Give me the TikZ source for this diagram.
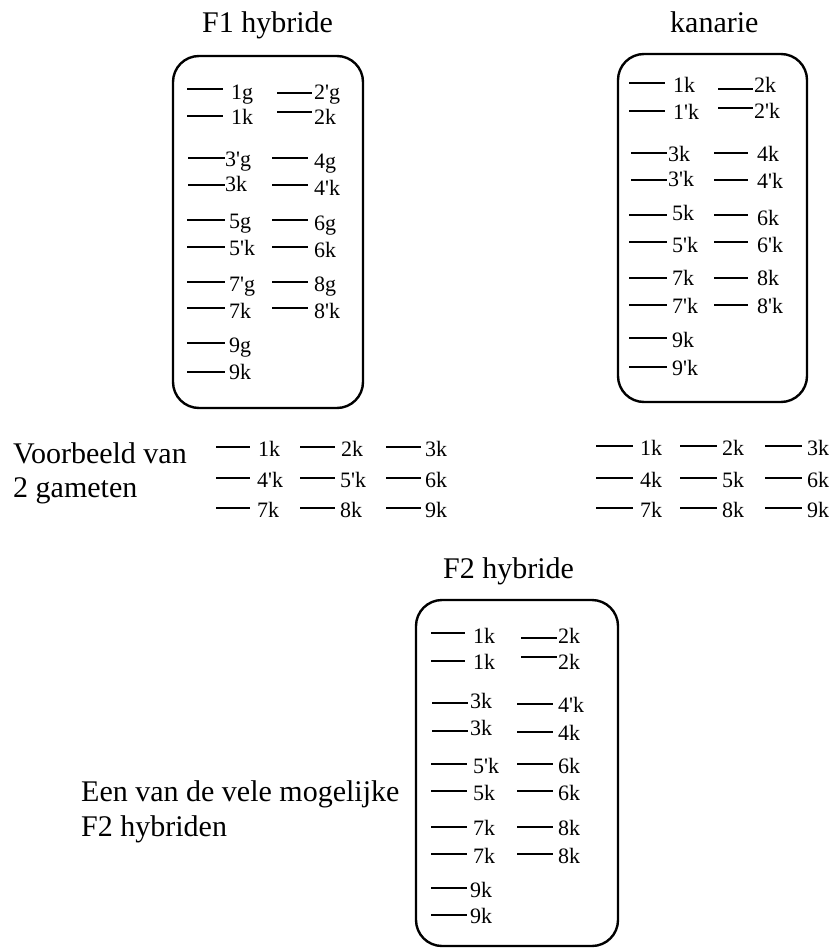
\documentclass[tikz,border=0pt]{standalone}
\usepackage{fontspec}
\setmainfont{Liberation Serif}
\newcommand{\q}{\textquotesingle}
\newcommand{\gn}[7]{%
  \coordinate (#1a) at (#2,#4);
  \coordinate (#1b) at (#3,#4);
  \node[lab] (#1) at (#5,#6) {#7};
  \draw[gline] (#1a) -- (#1b);}
\tikzset{
  lab/.style={anchor=base west,inner sep=0pt,font=\fontsize{22}{24}\selectfont},
  captxt/.style={anchor=base west,inner sep=0pt,font=\fontsize{30}{34}\selectfont},
  gline/.style={line width=2.2pt},
  chrom/.style={line width=2.4pt,rounded corners=26pt},
}
\begin{document}
\begin{tikzpicture}[x=1pt,y=-1pt]
\useasboundingbox (0,0) rectangle (832,952);
% captions
\node[captxt] (tF1) at (202,33) {F1 hybride};
\node[captxt] (tKan) at (670,33) {kanarie};
\node[captxt] (tF2) at (443,578) {F2 hybride};
\node[captxt] (tVb1) at (13,463) {Voorbeeld van};
\node[captxt] (tVb2) at (13,497) {2 gameten};
\node[captxt] (tEen1) at (81,801) {Een van de vele mogelijke};
\node[captxt] (tEen2) at (81,836) {F2 hybriden};
% boxes
\draw[chrom] (173,56) rectangle (363,408);
\draw[chrom] (618,54) rectangle (807,402);
\draw[chrom] (416,600) rectangle (618,946);
% F1 hybride
\gn{fa1}{187}{223}{89}{231}{100}{1g}
\gn{fa2}{187}{223}{116}{231}{125}{1k}
\gn{fa3}{188}{225}{158}{225}{167}{3\q g}
\gn{fa4}{188}{225}{185}{225}{192}{3k}
\gn{fa5}{187}{225}{220}{229}{228}{5g}
\gn{fa6}{187}{225}{247}{229}{255}{5\q k}
\gn{fa7}{187}{225}{282}{229}{291}{7\q g}
\gn{fa8}{187}{225}{308}{229}{318}{7k}
\gn{fa9}{187}{225}{343}{229}{352}{9g}
\gn{fa10}{187}{225}{372}{229}{379}{9k}
\gn{fb1}{277}{312}{93}{314}{100}{2\q g}
\gn{fb2}{277}{312}{112}{314}{125}{2k}
\gn{fb3}{272}{308}{158}{314}{169}{4g}
\gn{fb4}{272}{308}{185}{314}{195}{4\q k}
\gn{fb5}{272}{308}{220}{314}{230}{6g}
\gn{fb6}{272}{308}{247}{314}{257}{6k}
\gn{fb7}{272}{308}{282}{314}{291}{8g}
\gn{fb8}{272}{308}{308}{314}{318}{8\q k}
% kanarie
\gn{ka1}{629}{665}{83}{673}{93}{1k}
\gn{ka2}{629}{665}{111}{673}{120}{1\q k}
\gn{ka3}{631}{667}{153}{668}{162}{3k}
\gn{ka4}{631}{667}{180}{668}{186}{3\q k}
\gn{ka5}{629}{667}{215}{672}{220}{5k}
\gn{ka6}{629}{667}{242}{672}{252}{5\q k}
\gn{ka7}{629}{667}{278}{672}{285}{7k}
\gn{ka8}{629}{667}{305}{672}{313}{7\q k}
\gn{ka9}{629}{667}{338}{672}{347}{9k}
\gn{ka10}{629}{667}{367}{672}{375}{9\q k}
\gn{kb1}{718}{753}{89}{754}{93}{2k}
\gn{kb2}{718}{753}{108}{754}{119}{2\q k}
\gn{kb3}{714}{748}{153}{757}{162}{4k}
\gn{kb4}{714}{748}{180}{757}{189}{4\q k}
\gn{kb5}{714}{748}{215}{757}{225}{6k}
\gn{kb6}{714}{748}{242}{757}{252}{6\q k}
\gn{kb7}{714}{748}{278}{757}{285}{8k}
\gn{kb8}{714}{748}{305}{757}{313}{8\q k}
% gametes left
\gn{gl1}{216}{250}{447}{258}{456}{1k}
\gn{gl2}{300}{335}{447}{341}{456}{2k}
\gn{gl3}{386}{421}{447}{425}{456}{3k}
\gn{gl4}{216}{250}{478}{257}{487}{4\q k}
\gn{gl5}{300}{335}{478}{340}{487}{5\q k}
\gn{gl6}{386}{421}{478}{425}{487}{6k}
\gn{gl7}{216}{250}{508}{257}{517}{7k}
\gn{gl8}{300}{335}{508}{340}{517}{8k}
\gn{gl9}{386}{421}{508}{425}{517}{9k}
% gametes right
\gn{gr1}{596}{633}{446}{640}{455}{1k}
\gn{gr2}{680}{717}{446}{722}{455}{2k}
\gn{gr3}{765}{802}{446}{807}{455}{3k}
\gn{gr4}{596}{633}{478}{640}{487}{4k}
\gn{gr5}{680}{717}{478}{722}{487}{5k}
\gn{gr6}{765}{802}{478}{807}{487}{6k}
\gn{gr7}{596}{633}{508}{640}{517}{7k}
\gn{gr8}{680}{717}{508}{722}{517}{8k}
\gn{gr9}{765}{802}{508}{807}{517}{9k}
% F2 hybride
\gn{ha1}{431}{465}{633}{473}{643}{1k}
\gn{ha2}{431}{465}{661}{473}{669}{1k}
\gn{ha3}{432}{468}{703}{470}{708}{3k}
\gn{ha4}{432}{468}{731}{470}{735}{3k}
\gn{ha5}{431}{467}{764}{473}{773}{5\q k}
\gn{ha6}{431}{467}{791}{473}{800}{5k}
\gn{ha7}{431}{467}{827}{473}{835}{7k}
\gn{ha8}{431}{467}{854}{473}{863}{7k}
\gn{ha9}{431}{467}{888}{470}{897}{9k}
\gn{ha10}{431}{467}{915}{470}{923}{9k}
\gn{hb1}{521}{557}{638}{558}{643}{2k}
\gn{hb2}{521}{557}{657}{558}{669}{2k}
\gn{hb3}{517}{553}{704}{558}{712}{4\q k}
\gn{hb4}{517}{553}{732}{558}{740}{4k}
\gn{hb5}{517}{553}{764}{558}{773}{6k}
\gn{hb6}{517}{553}{791}{558}{800}{6k}
\gn{hb7}{517}{553}{827}{558}{835}{8k}
\gn{hb8}{517}{553}{854}{558}{863}{8k}
\end{tikzpicture}
\end{document}
